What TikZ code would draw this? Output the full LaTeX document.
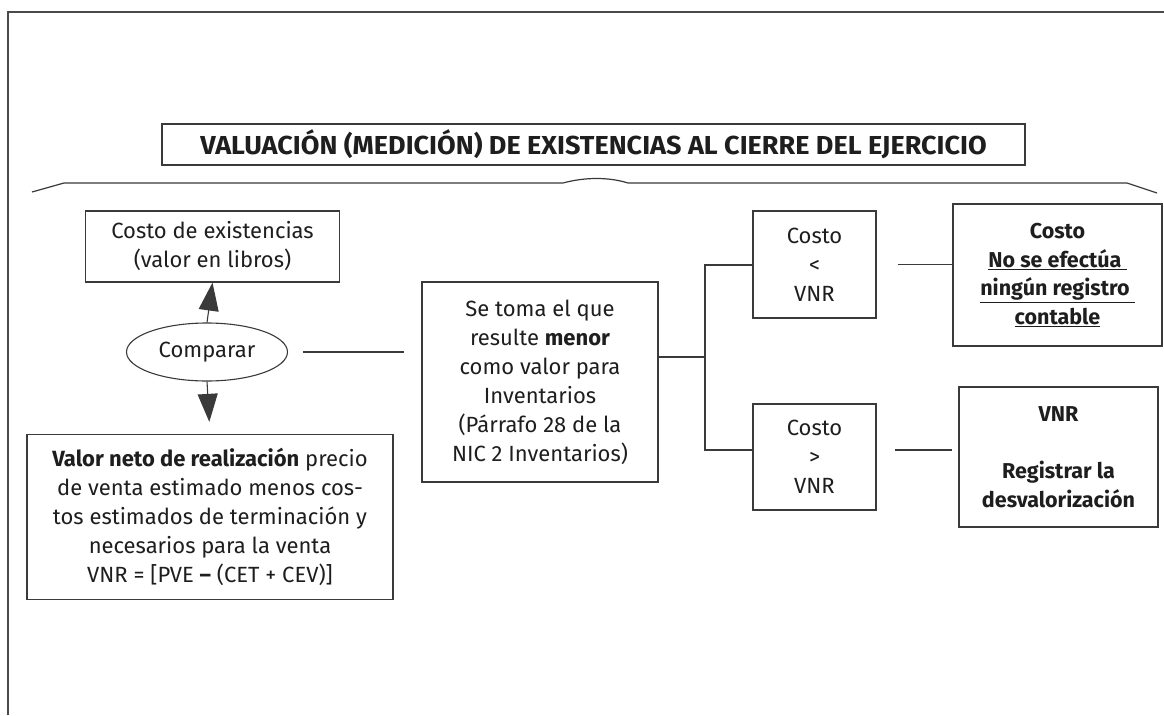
\documentclass[tikz,border=0pt]{standalone}
\usepackage{fontspec}
\usepackage{graphicx}
\setmainfont{Fira Sans}
\usetikzlibrary{arrows.meta,shapes.geometric,calc}
\definecolor{linec}{HTML}{3A3A3A}
\definecolor{framec}{HTML}{4A4A4A}
\definecolor{txt}{HTML}{1E1E1E}
\begin{document}
\begin{tikzpicture}[x=1pt,y=-1pt,
  box/.style={draw=linec, line width=1.3pt, align=center, inner sep=0pt, text=txt, font=\fontsize{22}{29}\selectfont},
  conn/.style={draw=linec, line width=1.1pt},
  arr/.style={conn, -{Triangle[length=28pt,width=20pt]}},
  bracec/.style={draw=linec, line width=1.2pt},
]
\useasboundingbox (0,0) rectangle (1164,715);
\fill[white] (0,0) rectangle (1164,715);
\draw[framec, line width=2pt] (8,715) -- (8,12) -- (1164,12);

\node[draw=linec, line width=1.2pt, minimum width=863pt, minimum height=41pt, inner sep=0pt, text=txt] (title) at (593.5,144.5)
  {\scalebox{1.04}[1]{\fontsize{26}{26}\selectfont\bfseries VALUACIÓN (MEDICIÓN) DE EXISTENCIAS AL CIERRE DEL EJERCICIO}};

\draw[bracec] (32,192) -- (64,183) -- (563,183) .. controls (585,177) and (609,177) .. (628,183) -- (1127,183) -- (1157,193);

\node[box, minimum width=254pt, minimum height=71pt] (cost) at (212.5,246.5) {Costo de existencias\\(valor en libros)};
\node[box, ellipse, minimum width=161pt, minimum height=58pt, line width=1.1pt] (comp) at (207,352) {Comparar};
\node[box, minimum width=366pt, minimum height=165pt] (vnr) at (210,517)
  {\textbf{Valor neto de realización} precio\\de venta estimado menos cos-\\tos estimados de terminación y\\necesarios para la venta\\VNR = [PVE \textbf{–} (CET + CEV)]};
\node[box, minimum width=236pt, minimum height=200pt] (cen) at (540,382)
  {Se toma el que\\resulte \textbf{menor}\\como valor para\\Inventarios\\(Párrafo 28 de la\\NIC 2 Inventarios)};
\node[box, minimum width=123pt, minimum height=107pt] (lt) at (814.5,264.5) {Costo\\<\\VNR};
\node[box, minimum width=123pt, minimum height=106pt] (gt) at (814.5,457) {Costo\\>\\VNR};
\node[box, minimum width=209pt, minimum height=142pt, font=\fontsize{21.5}{28.5}\selectfont\bfseries] (r1) at (1057.5,275)
  {Costo\\\underline{No se efectúa\ }\\\underline{ningún registro\ }\\\underline{contable}};
\node[box, minimum width=199pt, minimum height=140pt, font=\fontsize{21.5}{28.5}\selectfont\bfseries] (r2) at (1058.5,457)
  {VNR\\[28.5pt]Registrar la\\desvalorización};

\draw[arr] (comp.north) -- (cost.south);
\draw[arr, shorten >=12pt] (comp.south) -- (vnr.north);
\draw[conn, shorten <=15pt, shorten >=17pt] (comp.east) -- (cen.west |- comp.east);

\coordinate (j) at (705,357);
\coordinate (j1) at (705,265);
\coordinate (j2) at (705,450);
\draw[conn] (cen.east |- j) -- (j);
\draw[conn] (lt.west |- j1) -- (j1) -- (j2) -- (gt.west |- j2);
\draw[conn, shorten <=21pt] (lt.east) -- (lt.east -| r1.west);
\draw[conn, shorten <=18pt, shorten >=6pt] (gt.east |- j2) -- (r2.west |- j2);
\end{tikzpicture}
\end{document}
